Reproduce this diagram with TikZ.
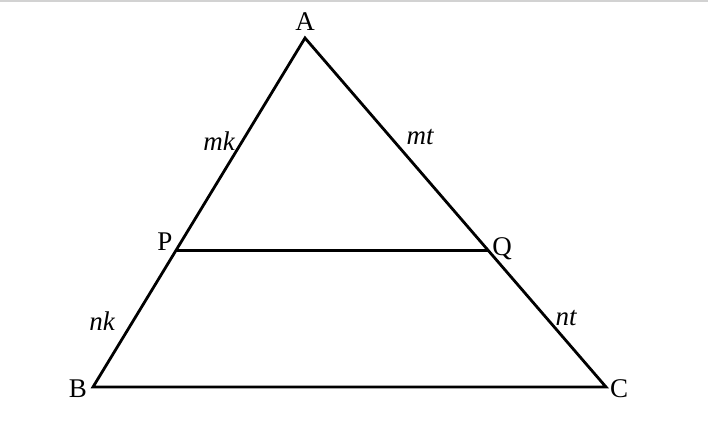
\documentclass[tikz,border=0pt]{standalone}
\usepackage{fontspec}
\setmainfont{Liberation Serif}
\usetikzlibrary{calc}

\begin{document}
\begin{tikzpicture}[x=1pt, y=-1pt, side/.style={line width=2.8pt, line join=miter}, vertex/.style={font=\fontsize{27}{30}\selectfont, inner sep=0pt}, seglabel/.style={font=\fontsize{27}{30}\selectfont\itshape, inner sep=0pt}]

\useasboundingbox (0,0) rectangle (708,426);
\draw[gray!35, line width=2pt] (0,1) -- (708,1);

% VERTICES

\coordinate (a) at (305,38);
\coordinate (b) at (93,387);
\coordinate (c) at (606,387);
\coordinate (p) at ($(a)!0.61!(b)$);
\coordinate (q) at ($(a)!0.61!(c)$);

\node[vertex] (alabel) at (305,22) {A};
\node[vertex] (blabel) at (78,389) {B};
\node[vertex] (clabel) at (619,389) {C};
\node[vertex] (plabel) at (165,242) {P};
\node[vertex] (qlabel) at (502,249) {Q};

% SIDE LABELS

\node[seglabel] (mklabel) at (219,141) {mk};
\node[seglabel] (mtlabel) at (420,137) {mt};
\node[seglabel] (nklabel) at (102,321) {nk};
\node[seglabel] (ntlabel) at (566,318) {nt};

% SIDES

\draw[side] (a) -- (b) -- (c) -- cycle;
\draw[side] (p) -- (q);

\end{tikzpicture}
\end{document}
